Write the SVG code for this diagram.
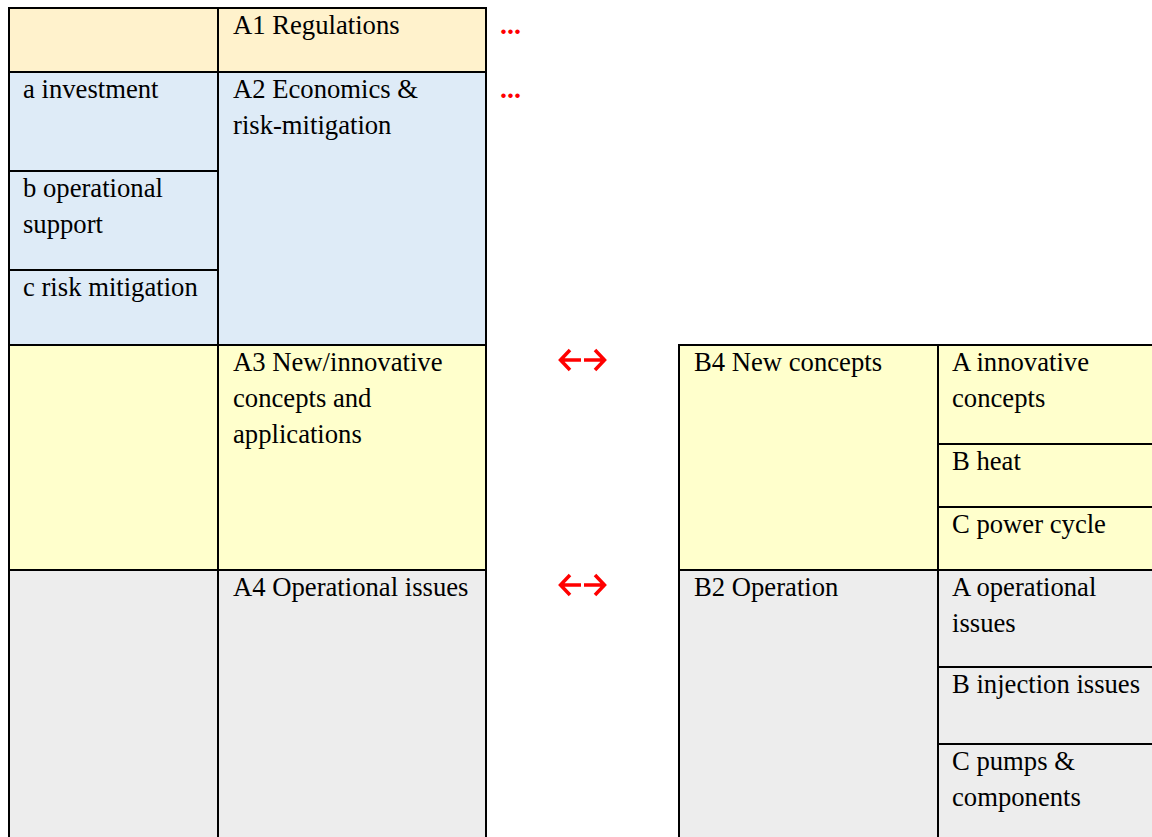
<svg xmlns="http://www.w3.org/2000/svg" width="1152" height="837" viewBox="0 0 1152 837" font-family="'Liberation Serif', 'DejaVu Serif', serif">
<style>
  .c { stroke: #000; stroke-width: 2; }
  .o { fill: #FFF2CC; }
  .b { fill: #DEEBF7; }
  .y { fill: #FFFFCC; }
  .g { fill: #EDEDED; }
  .t { font-family: 'Liberation Serif', 'DejaVu Serif', serif; font-size: 26.67px; fill: #000; }
  .red { fill: #FF0000; font-weight: bold; font-size: 28px; }
  .arr { fill: none; stroke: #FF0000; stroke-width: 3.5; stroke-linecap: butt; stroke-linejoin: miter; }
</style>
<rect x="0" y="0" width="1152" height="837" fill="#fff"/>
<g id="left-table">
  <g id="r1-empty"><rect class="c o" x="9" y="8" width="209" height="64"/></g>
  <g id="A1"><rect class="c o" x="218" y="8" width="268" height="64"/><text class="t" x="233" y="34">A1 Regulations</text></g>
  <g id="a-investment"><rect class="c b" x="9" y="72" width="209" height="99"/><text class="t" x="23" y="98">a investment</text></g>
  <g id="b-operational"><rect class="c b" x="9" y="171" width="209" height="99"/><text class="t" x="23" y="197">b operational</text><text class="t" x="23" y="233">support</text></g>
  <g id="c-risk"><rect class="c b" x="9" y="270" width="209" height="75"/><text class="t" x="23" y="296">c risk mitigation</text></g>
  <g id="A2"><rect class="c b" x="218" y="72" width="268" height="273"/><text class="t" x="233" y="98">A2 Economics &amp;</text><text class="t" x="233" y="134">risk-mitigation</text></g>
  <g id="r3-empty"><rect class="c y" x="9" y="345" width="209" height="225"/></g>
  <g id="A3"><rect class="c y" x="218" y="345" width="268" height="225"/><text class="t" x="233" y="371">A3 New/innovative</text><text class="t" x="233" y="407">concepts and</text><text class="t" x="233" y="443">applications</text></g>
  <g id="r4-empty"><rect class="c g" x="9" y="570" width="209" height="280"/></g>
  <g id="A4"><rect class="c g" x="218" y="570" width="268" height="280"/><text class="t" x="233" y="596">A4 Operational issues</text></g>
</g>
<g id="right-table">
  <g id="B4"><rect class="c y" x="679" y="345" width="259" height="225"/><text class="t" x="694" y="371">B4 New concepts</text></g>
  <g id="B4-A"><rect class="c y" x="938" y="345" width="230" height="99"/><text class="t" x="952" y="371">A innovative</text><text class="t" x="952" y="407">concepts</text></g>
  <g id="B4-B"><rect class="c y" x="938" y="444" width="230" height="63"/><text class="t" x="952" y="470">B heat</text></g>
  <g id="B4-C"><rect class="c y" x="938" y="507" width="230" height="63"/><text class="t" x="952" y="533">C power cycle</text></g>
  <g id="B2"><rect class="c g" x="679" y="570" width="259" height="280"/><text class="t" x="694" y="596">B2 Operation</text></g>
  <g id="B2-A"><rect class="c g" x="938" y="570" width="230" height="97"/><text class="t" x="952" y="596">A operational</text><text class="t" x="952" y="632">issues</text></g>
  <g id="B2-B"><rect class="c g" x="938" y="667" width="230" height="77"/><text class="t" x="952" y="693">B injection issues</text></g>
  <g id="B2-C"><rect class="c g" x="938" y="744" width="230" height="106"/><text class="t" x="952" y="770">C pumps &amp;</text><text class="t" x="952" y="806">components</text></g>
</g>
<g id="connectors">
  <text class="t red" x="500" y="34">...</text>
  <text class="t red" x="500" y="98">...</text>
  <path class="arr" d="M560,360 H581 M570,350 L560.5,360 L570,370"/>
  <path class="arr" d="M584,360 H605 M595,350 L604.5,360 L595,370"/>
  <path class="arr" d="M560,585 H581 M570,575 L560.5,585 L570,595"/>
  <path class="arr" d="M584,585 H605 M595,575 L604.5,585 L595,595"/>
</g>
</svg>
